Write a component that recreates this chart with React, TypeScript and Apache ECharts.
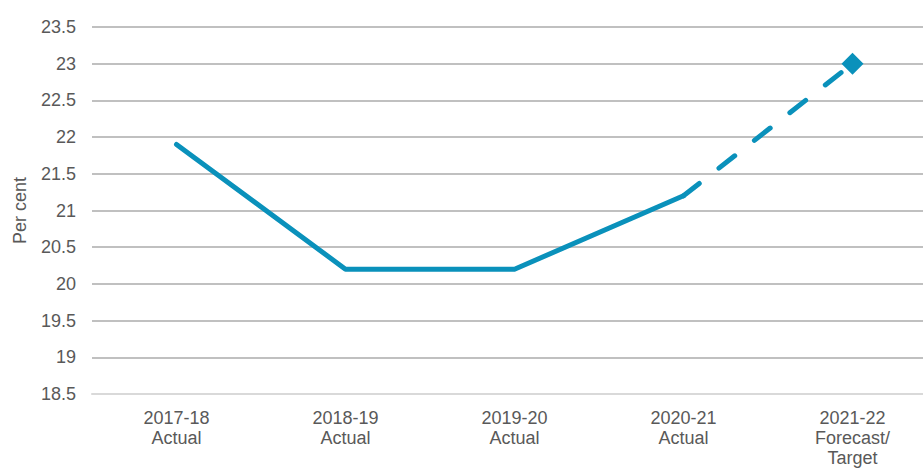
import React, { useEffect, useRef } from "react";
import * as echarts from "echarts";

const categories = ["2017-18\nActual", "2018-19\nActual", "2019-20\nActual", "2020-21\nActual", "2021-22\nForecast/\nTarget"];
const actualValues = [21.9, 20.2, 20.2, 21.2, null];
const forecastValues = [null, null, null, 21.2, 23.0];

const COLOR = "#0a91bb";
const FONT = "Liberation Sans, Arial, sans-serif";

export default function App() {
  const ref = useRef<HTMLDivElement>(null);
  useEffect(() => {
    const chart = echarts.init(ref.current!, null, { renderer: "svg" });
    chart.setOption({
      animation: false,
      grid: { left: 92, right: 0, top: 27, bottom: 70, containLabel: false },
      xAxis: {
        type: "category",
        data: categories,
        boundaryGap: true,
        axisLine: { show: true, lineStyle: { color: "#d9d9d9", width: 2 } },
        axisTick: { show: false },
        axisLabel: {
          color: "#595959",
          fontFamily: FONT,
          fontSize: 18,
          lineHeight: 20,
          margin: 14,
          interval: 0,
        },
      },
      yAxis: {
        type: "value",
        min: 18.5,
        max: 23.5,
        interval: 0.5,
        name: "Per cent",
        nameLocation: "middle",
        nameGap: 63,
        nameTextStyle: { color: "#595959", fontFamily: FONT, fontSize: 18 },
        axisLine: { show: false },
        axisTick: { show: false },
        axisLabel: {
          color: "#595959",
          fontFamily: FONT,
          fontSize: 18,
          margin: 16,
        },
        splitLine: { lineStyle: { color: "#c0c0c0", width: 2 } },
      },
      series: [
        {
          type: "line",
          data: actualValues,
          symbol: "none",
          lineStyle: { color: COLOR, width: 5, cap: "round", join: "round" },
        },
        {
          type: "line",
          data: forecastValues,
          symbol: (v: any, p: any) => (p.dataIndex === 4 ? "diamond" : "none"),
          symbolSize: 22,
          itemStyle: { color: COLOR },
          lineStyle: { color: COLOR, width: 5, type: [20, 25], cap: "round" },
        },
      ],
    });
    return () => chart.dispose();
  }, []);
  return (
    <div style={{ width: 923, height: 468, position: "absolute", left: 0, top: 0, overflow: "hidden" }}>
      <div ref={ref} style={{ width: 937, height: 468 }} />
    </div>
  );
}
